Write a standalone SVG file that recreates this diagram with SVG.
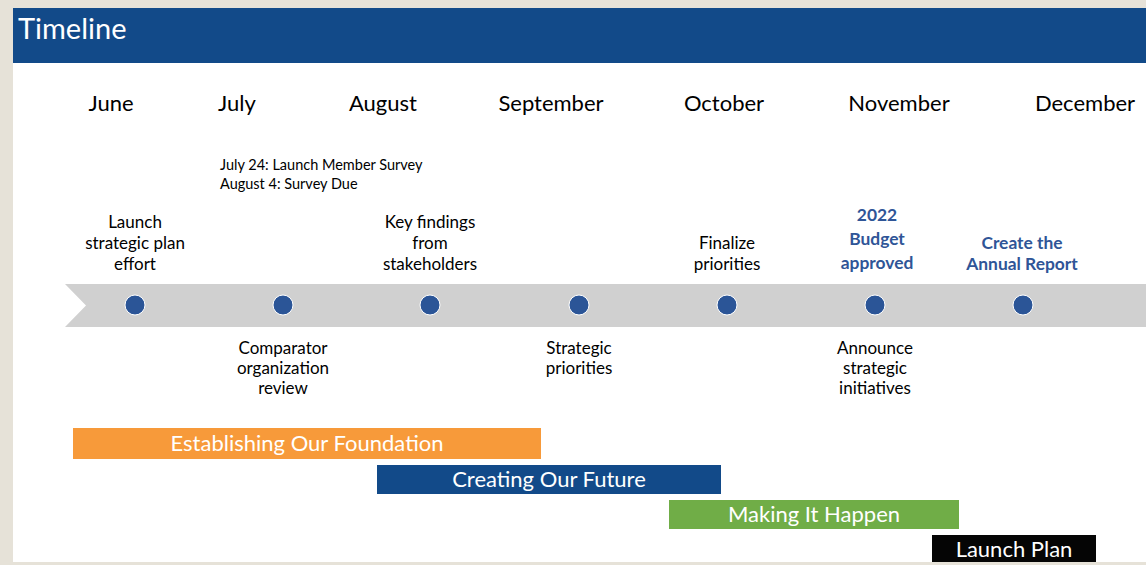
<svg xmlns="http://www.w3.org/2000/svg" width="1146" height="565" viewBox="0 0 1146 565">
<style>
text{font-family:Lato,"Open Sans","Liberation Sans",sans-serif;}
.m{font-size:22px;fill:#000;text-anchor:middle;}
.t{font-size:17px;fill:#000;text-anchor:middle;}
.s{font-size:14.5px;fill:#000;}
.b{font-size:17.4px;font-weight:bold;fill:#2F5597;text-anchor:middle;}
.w{fill:#fff;text-anchor:middle;font-size:22px;}
.dot{fill:#2B5597;stroke:#fff;stroke-width:1;}
</style>
<rect x="0" y="0" width="1146" height="565" fill="#E6E2D8"/>
<rect x="13" y="8" width="1133" height="554" fill="#fff"/>
<g id="header">
<rect x="13" y="8" width="1133" height="55" fill="#124A89"/>
<text x="18" y="39" font-size="29" fill="#fff">Timeline</text>
</g>
<g id="months">
<text class="m" x="111" y="111">June</text>
<text class="m" x="237" y="111">July</text>
<text class="m" x="383" y="111">August</text>
<text class="m" x="551" y="111">September</text>
<text class="m" x="724" y="111">October</text>
<text class="m" x="899" y="111">November</text>
<text class="m" x="1085" y="111">December</text>
</g>
<g id="band">
<polygon points="65,284 1146,284 1146,327 65,327 86,305.5" fill="#D0D0D0"/>
</g>
<g id="dots">
<circle class="dot" cx="135" cy="305" r="10"/>
<circle class="dot" cx="283" cy="305" r="10"/>
<circle class="dot" cx="430" cy="305" r="10"/>
<circle class="dot" cx="579" cy="305" r="10"/>
<circle class="dot" cx="727" cy="305" r="10"/>
<circle class="dot" cx="875" cy="305" r="10"/>
<circle class="dot" cx="1023" cy="305" r="10"/>
</g>
<g id="survey">
<text class="s" x="220" y="170">July 24: Launch Member Survey</text>
<text class="s" x="220" y="189">August 4: Survey Due</text>
</g>
<g id="launch">
<text class="t" x="135" y="228">Launch</text>
<text class="t" x="135" y="249">strategic plan</text>
<text class="t" x="135" y="270">effort</text>
</g>
<g id="keyfindings">
<text class="t" x="430" y="228">Key findings</text>
<text class="t" x="430" y="249">from</text>
<text class="t" x="430" y="270">stakeholders</text>
</g>
<g id="finalize">
<text class="t" x="727" y="249">Finalize</text>
<text class="t" x="727" y="270">priorities</text>
</g>
<g id="budget">
<text class="b" x="877" y="221">2022</text>
<text class="b" x="877" y="245">Budget</text>
<text class="b" x="877" y="269">approved</text>
</g>
<g id="annual">
<text class="b" x="1022" y="249">Create the</text>
<text class="b" x="1022" y="270">Annual Report</text>
</g>
<g id="comparator">
<text class="t" x="283" y="354">Comparator</text>
<text class="t" x="283" y="374">organization</text>
<text class="t" x="283" y="394">review</text>
</g>
<g id="strategic">
<text class="t" x="579" y="354">Strategic</text>
<text class="t" x="579" y="374">priorities</text>
</g>
<g id="announce">
<text class="t" x="875" y="354">Announce</text>
<text class="t" x="875" y="374">strategic</text>
<text class="t" x="875" y="394">initiatives</text>
</g>
<g id="phase1">
<rect x="73" y="428" width="468" height="31" fill="#F79A3A"/>
<text class="w" x="307" y="451">Establishing Our Foundation</text>
</g>
<g id="phase2">
<rect x="377" y="465" width="344" height="29" fill="#124A89"/>
<text class="w" x="549" y="487">Creating Our Future</text>
</g>
<g id="phase3">
<rect x="669" y="500" width="290" height="29" fill="#70AD47"/>
<text class="w" x="814" y="522">Making It Happen</text>
</g>
<g id="phase4">
<rect x="932" y="535" width="164" height="27" fill="#050505"/>
<text class="w" x="1014" y="557">Launch Plan</text>
</g>
</svg>
